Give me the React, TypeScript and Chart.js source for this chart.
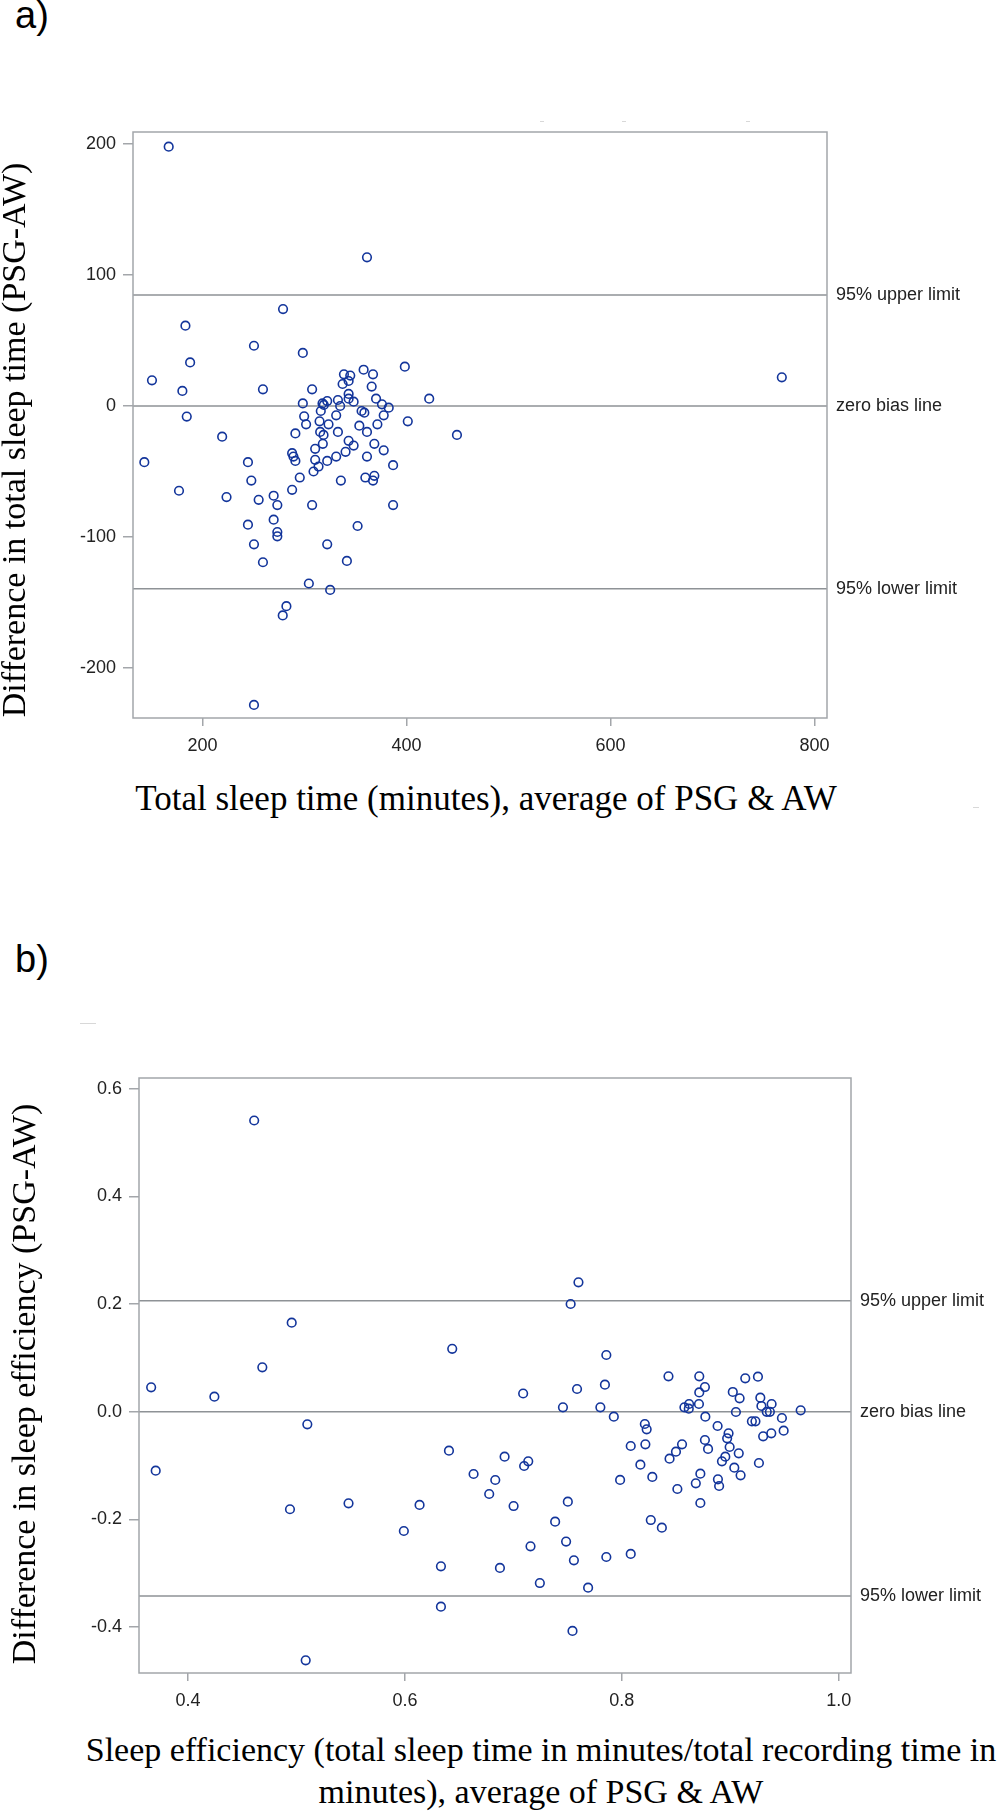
import React, { useEffect, useRef } from 'react';
import { Chart, registerables } from 'chart.js';

Chart.register(...registerables);

// ---------- Panel a: total sleep time ----------
const tstAvg: number[] = [
  166.9, 361.3, 279, 183.3, 250.5, 298.4, 187.9, 398.4, 150.5, 358,
  367.2, 338.7, 344.9, 343.3, 337.4, 365.9, 180.3, 259.3, 307.5, 343.3,
  370.2, 422.3, 298.4, 317.7, 322.3, 332.8, 343.3, 348.2, 319, 335,
  376, 382.6, 184.6, 316, 356, 358.7, 299.7, 331.1, 377.7, 401.3,
  314.8, 301.6, 323.6, 353.8, 371.5, 219.3, 291.1, 315.4, 332.8, 361.3,
  449.5, 318.7, 143, 177, 244.6, 247.9, 223.6, 255.1, 269.8, 273.4,
  244.6, 269.8, 273.4, 273.4, 250.5, 259.3, 287.9, 289.2, 291.1, 287.9,
  295.4, 307.5, 308.9, 310.5, 310.5, 313.8, 318, 322.3, 331.1, 340.3,
  343.3, 348.2, 335.7, 322.3, 341.6, 352.1, 304.3, 325.2, 282.3, 278.7,
  250.5, 368.5, 377.7, 361.3, 386.9, 359.7, 368.5, 367.2, 386.9, 768,
];
const tstDiff: number[] = [
  198, 113.5, 74, 61.3, 46, 40.5, 33.3, 30, 19.6, 27.7,
  24.2, 24.2, 23.2, 19.1, 16.8, 14.8, 11.5, 12.7, 12.7, 9.2,
  5.6, 5.6, 2.0, 2.0, 3.8, 4.6, 5.6, 3.3, 0.8, 0,
  1.3, -1.3, -8.1, -3.8, -3.8, -5.1, -7.9, -7.1, -7.1, -11.7,
  -11.7, -14, -14, -15, -14, -23.4, -20.9, -19.8, -19.8, -19.8,
  -22.1, -22.1, -42.9, -64.7, -42.9, -56.9, -69.5, -71.6, -68.5, -75.6,
  -90.6, -86.8, -96.2, -99.5, -105.6, -119.3, -36, -38.6, -41.9, -64,
  -54.6, -75.6, -50, -41.1, -32.7, -46.2, -28.9, -41.9, -38.6, -35,
  -26.6, -30.2, -56.9, -105.6, -118.3, -91.6, -135.5, -140.4, -152.8, -159.9,
  -228.2, -28.9, -33.8, -38.6, -45.2, -54.6, -53.3, -56.9, -75.6, 21.9,
];
const tstXTicks: number[] = [200, 400, 600, 800];
const tstYTicks: number[] = [-200, -100, 0, 100, 200];
const tstLimits: number[] = [84.7, 0, -139.5];

// ---------- Panel b: sleep efficiency ----------
const seAvg: number[] = [
  0.461, 0.366, 0.4243, 0.4685, 0.4956, 0.51, 0.6436, 0.709,
  0.3702, 0.494, 0.5085, 0.548, 0.599, 0.6135, 0.6332, 0.6332, 0.6406, 0.6633,
  0.6777, 0.6833, 0.6919, 0.7002, 0.6876, 0.7099, 0.7137, 0.7158, 0.7244,
  0.7587, 0.7844, 0.7457, 0.7802, 0.7926, 0.7502, 0.7385, 0.7486, 0.7558, 0.7689,
  0.7545, 0.7857, 0.8082, 0.7984, 0.8082, 0.8212, 0.8229, 0.8217, 0.8171, 0.8281,
  0.8267, 0.8369, 0.844, 0.8499, 0.8555, 0.8512, 0.8682, 0.8724, 0.8724, 0.877,
  0.8766, 0.8795, 0.8883, 0.8984, 0.8971, 0.8994, 0.9078, 0.8954, 0.8923, 0.9037,
  0.9095, 0.8886, 0.8897, 0.9264, 0.9303, 0.9378, 0.9492, 0.9476, 0.9649, 0.9052,
  0.9199, 0.9232, 0.9336, 0.9365, 0.9381, 0.9287, 0.9277, 0.9086, 0.9023, 0.8711,
  0.862, 0.8577, 0.8617, 0.8714, 0.8766,
  0.76, 0.7528, 0.7857, 0.843, 0.8714, 0.9138, 0.9255,
];
const seDiff: number[] = [
  0.541, 0.0455, 0.028, 0.0826, 0.1655, -0.0233, 0.117, 0.034,
  -0.1093, -0.181, -0.4615, -0.17, -0.2214, -0.173, -0.287, -0.362, -0.0722, -0.1155,
  -0.1527, -0.1267, -0.0834, -0.175, -0.29, -0.1007, -0.092, -0.2498, -0.318,
  0.0423, 0.0503, 0.0083, 0.0083, -0.009, -0.167, -0.204, -0.241, -0.2758, -0.3266,
  -0.407, -0.2697, -0.264, -0.1266, -0.0635, -0.0227, -0.0325, -0.0604, -0.0982, -0.121,
  -0.201, -0.2152, -0.087, -0.074, -0.0604, -0.1434, -0.1328, -0.115, -0.1694, -0.009,
  -0.0524, -0.069, -0.0264, -0.04, -0.0493, -0.0654, -0.0771, -0.0834, -0.092, -0.1038,
  -0.118, -0.1254, -0.1378, -0.0951, -0.0455, -0.04, -0.0351, -0.0115, 0.0028, -0.0004,
  -0.0177, -0.0177, 0, 0, 0.0145, 0.0108, 0.0262, 0.025, 0.0368, 0.0145,
  0.0145, 0.0083, 0.0058, 0.036, 0.046,
  0.2405, 0.2002, 0.1055, 0.0659, 0.0659, 0.0622, 0.0652,
];
const seXTicks: number[] = [0.4, 0.6, 0.8, 1.0];
const seYTicks: number[] = [-0.4, -0.2, 0, 0.2, 0.4, 0.6];
const seLimits: number[] = [0.206, 0, -0.342];

const limitLabels: string[] = ['95% upper limit', 'zero bias line', '95% lower limit'];

const SANS = '"Liberation Sans", Arial, sans-serif';
const SERIF = '"Liberation Serif", "Times New Roman", serif';
const MARKER = '#13359b';
const FRAME = '#a3a6aa';
const REF = '#8e9296';
const TICKTXT = '#222222';

const refPlugin = {
  id: 'refLines',
  beforeDatasetsDraw(chart: any) {
    const o = chart.options.plugins.refLines;
    const { ctx, chartArea: ca } = chart;
    const y = chart.scales.y;
    ctx.save();
    ctx.strokeStyle = REF;
    ctx.lineWidth = 1.5;
    o.values.forEach((v: number) => {
      const py = y.getPixelForValue(v);
      ctx.beginPath();
      ctx.moveTo(ca.left, py);
      ctx.lineTo(ca.right, py);
      ctx.stroke();
    });
    ctx.restore();
  },
  afterDraw(chart: any) {
    const o = chart.options.plugins.refLines;
    const { ctx, chartArea: ca } = chart;
    const y = chart.scales.y;
    ctx.save();
    ctx.strokeStyle = FRAME;
    ctx.lineWidth = 1.5;
    ctx.strokeRect(ca.left, ca.top, ca.right - ca.left, ca.bottom - ca.top);
    ctx.fillStyle = TICKTXT;
    ctx.font = '18px ' + SANS;
    ctx.textBaseline = 'middle';
    ctx.textAlign = 'left';
    o.values.forEach((v: number, i: number) => {
      const py = y.getPixelForValue(v);
      ctx.fillText(o.labels[i], ca.right + 9, py);
    });
    ctx.restore();
  },
};

type PanelProps = {
  left: number; top: number; width: number; height: number;
  pad: { left: number; right: number; top: number; bottom: number };
  yW: number; xH: number;
  xs: number[]; ys: number[];
  xMin: number; xMax: number; yMin: number; yMax: number;
  xTicks: number[]; yTicks: number[];
  fmt: (v: number) => string;
  limits: number[];
};

function Panel(p: PanelProps) {
  const ref = useRef<HTMLCanvasElement | null>(null);
  useEffect(() => {
    if (!ref.current) return;
    const gridCommon = {
      drawOnChartArea: false,
      drawTicks: true,
      tickLength: 9,
      color: FRAME,
      lineWidth: 1.5,
    };
    const chart = new Chart(ref.current, {
      type: 'scatter',
      data: {
        datasets: [
          {
            data: p.xs.map((x, i) => ({ x, y: p.ys[i] })),
            borderColor: MARKER,
            backgroundColor: 'rgba(0,0,0,0)',
            pointRadius: 4.3,
            pointBorderWidth: 1.6,
            pointStyle: 'circle',
            showLine: false,
          },
        ],
      },
      options: {
        responsive: false,
        maintainAspectRatio: false,
        animation: false,
        devicePixelRatio: 1,
        events: [],
        layout: { padding: p.pad, autoPadding: false } as any,
        plugins: {
          legend: { display: false },
          tooltip: { enabled: false },
          refLines: { values: p.limits, labels: limitLabels },
        } as any,
        scales: {
          x: {
            type: 'linear',
            position: 'bottom',
            min: p.xMin,
            max: p.xMax,
            afterFit: (s: any) => { s.height = p.xH; },
            afterBuildTicks: (s: any) => { s.ticks = p.xTicks.map((v) => ({ value: v })); },
            grid: { ...gridCommon, tickLength: 8 },
            border: { display: false },
            ticks: {
              color: TICKTXT,
              font: { family: SANS, size: 18 },
              padding: 9,
              maxRotation: 0,
              autoSkip: false,
              callback: (v: any) => p.fmt(Number(v)),
            },
          },
          y: {
            type: 'linear',
            position: 'left',
            min: p.yMin,
            max: p.yMax,
            afterFit: (s: any) => { s.width = p.yW; },
            afterBuildTicks: (s: any) => { s.ticks = p.yTicks.map((v) => ({ value: v })); },
            grid: { ...gridCommon, tickLength: 10 },
            border: { display: false },
            ticks: {
              color: TICKTXT,
              font: { family: SANS, size: 18 },
              padding: 7,
              autoSkip: false,
              callback: (v: any) => p.fmt(Number(v)),
            },
          },
        },
      } as any,
      plugins: [refPlugin as any],
    });
    return () => chart.destroy();
  }, []);
  return (
    <canvas
      ref={ref}
      width={p.width}
      height={p.height}
      style={{ position: 'absolute', left: p.left, top: p.top, width: p.width, height: p.height }}
    />
  );
}

const serifTitle: React.CSSProperties = {
  position: 'absolute',
  fontFamily: SERIF,
  fontSize: 34,
  color: '#000',
  whiteSpace: 'nowrap',
};

function YTitle({ text, cx, cy }: { text: string; cx: number; cy: number }) {
  return (
    <div
      style={{
        ...serifTitle,
        left: cx - 400,
        top: cy - 17,
        width: 800,
        height: 34,
        lineHeight: '34px',
        textAlign: 'center',
        transform: 'rotate(-90deg)',
      }}
    >
      {text}
    </div>
  );
}

function Dash({ x, y, w }: { x: number; y: number; w: number }) {
  return <div style={{ position: 'absolute', left: x, top: y, width: w, height: 1, background: '#d8d8d8' }} />;
}

const panelLetter: React.CSSProperties = {
  position: 'absolute',
  left: 15,
  fontFamily: SANS,
  fontSize: 38,
  lineHeight: '38px',
  color: '#000',
};

export default function App() {
  return (
    <div
      style={{
        position: 'absolute',
        left: 0,
        top: 0,
        width: 1004,
        height: 1814,
        background: '#ffffff',
        overflow: 'hidden',
      }}
    >
      <div style={{ ...panelLetter, top: -4 }}>a)</div>
      <div style={{ ...panelLetter, top: 940 }}>b)</div>

      <Dash x={540} y={121} w={4} />
      <Dash x={622} y={121} w={4} />
      <Dash x={746} y={121} w={4} />
      <Dash x={973} y={807} w={6} />
      <Dash x={80} y={1023} w={16} />

      <Panel
        left={0}
        top={100}
        width={1004}
        height={670}
        pad={{ left: 40, right: 177, top: 32, bottom: 0 }}
        yW={93}
        xH={52}
        xs={tstAvg}
        ys={tstDiff}
        xMin={131.9}
        xMax={812.3}
        yMin={-238.2}
        yMax={209.2}
        xTicks={tstXTicks}
        yTicks={tstYTicks}
        fmt={(v) => String(Math.round(v))}
        limits={tstLimits}
      />
      <YTitle text="Difference in total sleep time (PSG-AW)" cx={14} cy={440} />
      <div style={{ ...serifTitle, fontSize: 35, left: 486, top: 781, transform: 'translateX(-50%)', lineHeight: '35px' }}>
        Total sleep time (minutes), average of PSG &amp; AW
      </div>

      <Panel
        left={0}
        top={1040}
        width={1004}
        height={680}
        pad={{ left: 40, right: 153, top: 38, bottom: 0 }}
        yW={99}
        xH={47}
        xs={seAvg}
        ys={seDiff}
        xMin={0.3548}
        xMax={1.0113}
        yMin={-0.4851}
        yMax={0.6199}
        xTicks={seXTicks}
        yTicks={seYTicks}
        fmt={(v) => v.toFixed(1)}
        limits={seLimits}
      />
      <YTitle text="Difference in sleep efficiency (PSG-AW)" cx={24} cy={1384} />
      <div style={{ ...serifTitle, left: 541, top: 1729, transform: 'translateX(-50%)', lineHeight: '42px', textAlign: 'center' }}>
        <div>Sleep efficiency (total sleep time in minutes/total recording time in</div>
        <div>minutes), average of PSG &amp; AW</div>
      </div>
    </div>
  );
}
